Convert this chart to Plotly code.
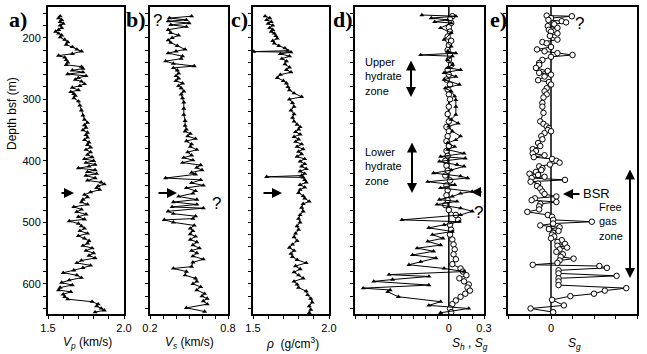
import plotly.graph_objects as go

W, H = 647, 354

# ---------------- data ----------------
a_depth = [165,168,171,174,177,180,184,187,190,193,196,199,203,207,211,215,219,222,226,229,232,236,240,244,247,250,253,256,259,262,265,268,271,275,278,281,285,288,291,294,298,303,310,318,326,333,338,342,346,350,354,358,362,366,370,374,378,382,386,390,394,397,400,403,406,409,412,415,418,421,424,428,432,435,438,441,444,447,451,455,459,463,467,471,475,479,483,487,491,495,498,502,506,510,514,518,522,526,530,534,538,542,546,550,554,558,562,566,570,574,578,582,586,590,594,598,602,606,610,613,617,621,625,629,633,636,640,643,646]
a_vp = [1.58,1.57,1.59,1.58,1.60,1.58,1.59,1.57,1.55,1.57,1.59,1.58,1.61,1.63,1.62,1.66,1.69,1.72,1.66,1.57,1.61,1.62,1.63,1.62,1.72,1.73,1.66,1.73,1.63,1.75,1.70,1.68,1.72,1.74,1.71,1.66,1.70,1.65,1.67,1.68,1.67,1.70,1.71,1.72,1.73,1.74,1.76,1.74,1.75,1.73,1.76,1.75,1.76,1.74,1.77,1.76,1.78,1.75,1.78,1.76,1.79,1.74,1.80,1.75,1.81,1.77,1.70,1.81,1.76,1.82,1.75,1.81,1.76,1.85,1.87,1.83,1.82,1.84,1.78,1.74,1.76,1.73,1.72,1.76,1.67,1.72,1.69,1.75,1.70,1.74,1.64,1.70,1.72,1.74,1.71,1.76,1.70,1.74,1.77,1.76,1.73,1.79,1.75,1.80,1.77,1.81,1.72,1.69,1.78,1.73,1.67,1.60,1.69,1.72,1.64,1.59,1.66,1.58,1.57,1.65,1.60,1.61,1.63,1.79,1.83,1.82,1.85,1.87,1.81]

b_depth = [165,168,171,173,176,179,182,187,192,196,200,204,208,213,219,222,225,230,234,238,242,246,249,253,258,262,266,270,274,278,282,287,292,298,305,315,325,335,343,349,352,356,360,364,368,373,377,382,386,391,395,399,403,407,411,415,419,422,428,431,436,440,444,449,453,458,463,467,471,475,477,482,486,490,494,496,500,505,510,514,519,523,528,532,537,542,546,550,555,560,565,572,575,580,586,591,596,600,605,610,616,620,624,628,633,639,645]
b_vs = [0.52,0.35,0.48,0.34,0.50,0.36,0.48,0.34,0.36,0.42,0.37,0.34,0.36,0.41,0.47,0.40,0.34,0.45,0.44,0.32,0.38,0.54,0.38,0.41,0.42,0.40,0.42,0.40,0.45,0.42,0.44,0.46,0.44,0.45,0.46,0.46,0.46,0.47,0.47,0.48,0.47,0.51,0.49,0.55,0.48,0.52,0.51,0.56,0.49,0.52,0.46,0.53,0.45,0.59,0.56,0.60,0.52,0.55,0.32,0.59,0.52,0.61,0.48,0.55,0.53,0.42,0.56,0.38,0.56,0.37,0.61,0.34,0.38,0.55,0.53,0.31,0.38,0.54,0.51,0.53,0.51,0.55,0.51,0.56,0.53,0.58,0.52,0.56,0.53,0.61,0.53,0.52,0.38,0.48,0.47,0.55,0.56,0.53,0.59,0.56,0.62,0.60,0.64,0.61,0.64,0.48,0.62]

c_depth = [165,168,171,174,177,180,184,187,190,193,197,201,205,209,213,217,221,222.5,223.5,226,230,234,238,243,248,252,256,260,265,270,274,280,285,290,296,300,306,312,318,324,330,336,341,345,349,353,357,361,365,369,373,377,381,385,389,393,397,401,405,409,413,417,421,424,426,427,431,435,439,443,447,452,457,461,466,470,476,482,488,494,500,506,512,518,524,530,536,541,546,551,556,561,566,571,576,581,586,591,596,601,606,612,618,624,630,636,642,647]
c_rho = [1.58,1.61,1.59,1.62,1.60,1.63,1.61,1.63,1.62,1.64,1.65,1.66,1.63,1.64,1.67,1.71,1.73,1.505,1.75,1.68,1.74,1.69,1.72,1.71,1.74,1.72,1.75,1.68,1.66,1.70,1.72,1.73,1.74,1.77,1.82,1.74,1.76,1.77,1.75,1.77,1.76,1.77,1.79,1.81,1.80,1.78,1.81,1.77,1.80,1.78,1.82,1.79,1.83,1.80,1.82,1.79,1.84,1.81,1.84,1.82,1.85,1.81,1.84,1.82,1.59,1.83,1.84,1.85,1.81,1.84,1.81,1.80,1.83,1.84,1.87,1.83,1.82,1.83,1.81,1.80,1.81,1.79,1.80,1.78,1.77,1.79,1.76,1.74,1.77,1.75,1.76,1.79,1.85,1.78,1.81,1.77,1.80,1.83,1.77,1.79,1.80,1.85,1.86,1.88,1.89,1.87,1.88,1.87]

d_depth = [163,165,168,171,174,176,184,192,203,214,222,225,228,230,236,244,249,252,257,263,268,276,282,287,295,301,312,325,333,339,344,352,360,366,371,377,382,388,393,396,401,406,409,415,420,425,428,434,439,444,450,453,458,463,466,471,477,482,488,496,499,504,509,515,520,526,531,537,542,547,553,558,564,569,575,580,585,588,593,596,602,607,610,613,621,629,635,640,647]
d_sh = [-0.23,0.06,-0.15,-0.01,-0.12,0.02,-0.07,0.02,-0.04,0.02,-0.01,0.06,-0.24,0.03,-0.01,0.03,-0.01,0.10,-0.04,0.06,-0.04,0.09,-0.03,0.02,0.05,0.06,0.06,0.06,0.02,0.08,0.00,0.03,0.10,0.06,-0.01,0.05,-0.01,0.13,-0.07,0.14,-0.08,0.07,0.13,0.02,-0.13,0.10,0.16,-0.18,0.05,-0.07,0.20,0.10,0.03,-0.08,0.07,-0.10,0.10,0.20,0.10,-0.40,0.09,-0.04,-0.17,0.03,-0.14,-0.05,-0.18,-0.07,-0.27,-0.13,-0.31,-0.11,-0.24,-0.34,-0.04,0.13,-0.51,-0.17,-0.48,-0.64,-0.17,-0.73,-0.50,-0.52,-0.43,-0.07,-0.17,0.17,-0.07]

d_sg_depth = [165,170,176,183,190,198,205,212,220,228,236,244,252,260,268,276,284,292,300,312,324,336,345,352,360,368,376,384,392,400,408,416,424,432,440,448,456,464,472,480,488,496,504,512,520,528,536,544,552,560,568,575,580,586,591,596,601,606,611,616,621,627,633,640,646]
d_sg = [0.03,0.01,0.02,0.00,0.01,-0.01,0.02,0.00,-0.01,0.01,0.00,0.02,-0.01,0.00,-0.02,0.01,-0.01,0.00,0.01,0.00,-0.01,0.00,-0.02,0.00,-0.01,-0.02,0.00,-0.02,-0.01,-0.03,-0.02,-0.01,-0.03,0.01,-0.02,-0.01,-0.02,-0.01,-0.03,0.00,0.06,0.08,0.01,0.02,0.01,0.03,0.04,0.05,0.04,0.06,0.03,0.10,0.12,0.15,0.09,0.13,0.17,0.16,0.18,0.14,0.10,0.06,0.03,0.01,0.02]

e_depth = [164,165,168,171,173,175,178,181,184,187,190,193,197,203,207,209,215,219,222,225,228,231,236,241,244,249,254,257,260,263,269,272,276,282,287,292,297,306,312,322,336,340,344,347,350,352,355,360,365,371,376,381,384,388,391,394,397,400,403,406,409,412,415,418,421,423,426,428,431,434,437,441,445,450,454,458,461,464,467,470,474,479,483,488,491,496,499,502,505,508,511,514,517,520,523,526,529,532,535,538,541,544,548,552,556,559,562,566,569,571,574,578,583,587,591,596,602,607,611,616,620,626,635,640,646]
e_sg = [-0.0020,0.0097,0.0000,-0.0012,0.0050,0.0070,0.0015,-0.0015,0.0030,-0.0010,0.0000,0.0030,-0.0005,0.0030,-0.0040,-0.0020,0.0000,-0.0065,-0.0030,0.0030,0.0100,0.0000,-0.0040,-0.0055,-0.0055,-0.0070,-0.0015,-0.0055,0.0000,-0.0030,-0.0060,-0.0010,0.0000,-0.0020,-0.0030,-0.0020,-0.0035,-0.0040,-0.0040,-0.0035,-0.0050,-0.0035,-0.0020,-0.0010,-0.0015,0.0000,-0.0030,-0.0045,-0.0040,-0.0060,-0.0050,-0.0085,-0.0070,-0.0085,-0.0030,-0.0080,0.0005,0.0025,0.0040,-0.0005,-0.0055,-0.0040,-0.0045,-0.0070,-0.0100,-0.0060,-0.0030,-0.0090,0.0065,-0.0095,-0.0060,-0.0065,-0.0050,-0.0040,-0.0030,0.0025,-0.0075,-0.0090,0.0025,-0.0050,-0.0055,-0.0055,-0.0110,-0.0015,0.0005,0.0010,0.0190,0.0010,-0.0050,0.0040,-0.0010,0.0035,0.0010,0.0005,0.0015,0.0000,0.0050,0.0030,0.0065,0.0030,0.0075,0.0040,0.0025,0.0055,0.0045,0.0105,0.0040,0.0030,-0.0085,0.0225,0.0260,0.0035,0.0035,0.0305,0.0035,0.0035,0.0035,0.0350,0.0250,0.0200,0.0090,0.0005,0.0060,-0.0095,0.0010]

x_ranges = [[1.5, 2.0], [0.2, 0.8], [1.5, 2.0], [-0.8, 0.3], [-0.02, 0.04]]
x_tickvals = [
    [1.5, 1.6, 1.7, 1.8, 1.9, 2.0],
    [0.2, 0.3, 0.4, 0.5, 0.6, 0.7, 0.8],
    [1.5, 1.6, 1.7, 1.8, 1.9, 2.0],
    [-0.8, -0.7, -0.6, -0.5, -0.4, -0.3, -0.2, -0.1, 0, 0.1, 0.2, 0.3],
    [-0.02, -0.01, 0, 0.01, 0.02, 0.03, 0.04],
]
x_ticktext = [
    ["1.5", "", "", "", "", "2.0"],
    ["0.2", "", "", "", "", "", "0.8"],
    ["1.5", "", "", "", "", "2.0"],
    ["", "", "", "", "", "", "", "", "0", "", "", "0.3"],
    ["", "", "0", "", "", "", "0.04"],
]
depth_tickvals = list(range(160, 660, 20))
depth_ticktext = [str(v) if v % 100 == 0 else "" for v in depth_tickvals]
depth_range = [649, 150]

# ---------------- layout helpers ----------------
def px(x):
    return x / W

def py(y):
    return 1 - y / H

panels = [(48, 124), (150, 228), (253, 329), (355, 484), (508, 637)]
ytop, ybot = 7, 314
FONT = "Liberation Sans, Arial, Helvetica, sans-serif"
SERIF = "Liberation Serif, Times New Roman, serif"

fig = go.Figure()

tri = dict(symbol="triangle-up", size=4.5, color="black", line=dict(width=0))
circw = dict(symbol="circle", size=5.5, color="white", line=dict(width=1, color="black"))

fig.add_trace(go.Scatter(x=a_vp, y=a_depth, mode="lines+markers", line=dict(color="black", width=1), marker=tri, xaxis="x", yaxis="y"))
fig.add_trace(go.Scatter(x=b_vs, y=b_depth, mode="lines+markers", line=dict(color="black", width=1), marker=tri, xaxis="x2", yaxis="y2"))
fig.add_trace(go.Scatter(x=c_rho, y=c_depth, mode="lines+markers", line=dict(color="black", width=1), marker=tri, xaxis="x3", yaxis="y3"))
fig.add_trace(go.Scatter(x=d_sg, y=d_sg_depth, mode="lines+markers", line=dict(color="black", width=1), marker=circw, xaxis="x4", yaxis="y4"))
fig.add_trace(go.Scatter(x=d_sh, y=d_depth, mode="lines+markers", line=dict(color="black", width=1), marker=tri, xaxis="x4", yaxis="y4"))
fig.add_trace(go.Scatter(x=e_sg, y=e_depth, mode="lines+markers", line=dict(color="black", width=1), marker=circw, xaxis="x5", yaxis="y5"))

layout = dict(
    width=W, height=H,
    margin=dict(l=0, r=0, t=0, b=0),
    paper_bgcolor="white", plot_bgcolor="white",
    showlegend=False,
    font=dict(family=FONT, size=11, color="black"),
)

for i, (l, r) in enumerate(panels):
    s = "" if i == 0 else str(i + 1)
    layout["xaxis" + s] = dict(
        domain=[px(l), px(r)], range=x_ranges[i], anchor="y" + s,
        showline=True, mirror=True, linecolor="black", linewidth=2,
        ticks="outside", ticklen=3, tickwidth=1, tickcolor="black",
        tickmode="array", tickvals=x_tickvals[i], ticktext=x_ticktext[i],
        tickfont=dict(family=FONT, size=11, color="black"),
        showgrid=False, zeroline=False, automargin=False,
    )
    layout["yaxis" + s] = dict(
        domain=[py(ybot), py(ytop)], range=depth_range, anchor="x" + s,
        showline=True, mirror=True, linecolor="black", linewidth=2,
        ticks="outside", ticklen=3, tickwidth=1, tickcolor="black",
        tickmode="array", tickvals=depth_tickvals, ticktext=depth_ticktext,
        showticklabels=(i == 0),
        tickfont=dict(family=FONT, size=11, color="black"),
        showgrid=False, zeroline=False, automargin=False,
    )

fig.update_layout(**layout)

# zero lines in d and e
for s in ["4", "5"]:
    fig.add_shape(type="line", x0=0, x1=0, xref="x" + s, y0=0, y1=1, yref="y" + s + " domain",
                  line=dict(color="black", width=1.5), layer="below")

ann = []
# panel letters
for txt, x in [("a)", 18), ("b)", 136), ("c)", 239), ("d)", 343), ("e)", 498)]:
    ann.append(dict(text="<b>%s</b>" % txt, x=px(x), y=py(19), xref="paper", yref="paper",
                    showarrow=False, font=dict(family=SERIF, size=22, color="black"),
                    xanchor="center", yanchor="middle"))
# axis titles
titles = [
    ("<i>V</i><sub><i>p</i></sub> (km/s)", 87, 343),
    ("<i>V</i><sub><i>s</i></sub> (km/s)", 189, 343),
    ("<i>ρ</i>  (g/cm<sup>3</sup>)", 292, 343),
    ("<i>S</i><sub><i>h</i></sub> , <i>S</i><sub><i>g</i></sub>", 470, 344),
    ("<i>S</i><sub><i>g</i></sub>", 574, 344),
]
for t, x, y in titles:
    ann.append(dict(text=t, x=px(x), y=py(y), xref="paper", yref="paper", showarrow=False,
                    font=dict(family=FONT, size=12, color="black"), xanchor="center", yanchor="middle"))
ann.append(dict(text="Depth bsf (m)", x=px(12), y=py(114), xref="paper", yref="paper", showarrow=False,
                textangle=-90, font=dict(family=FONT, size=12, color="black"),
                xanchor="center", yanchor="middle"))

# single arrows (head position, tail offset in px)
for hx, hy, dx in [(74, 193, -14), (177, 193, -20), (282, 193, -20), (471, 192, 12), (563, 194, 18)]:
    ann.append(dict(text="", x=px(hx), y=py(hy), xref="paper", yref="paper", showarrow=True,
                    ax=dx, ay=0, arrowhead=2, arrowsize=1, arrowwidth=2, arrowcolor="black",
                    standoff=0, startstandoff=0))
# double arrows
for hx, y0, y1 in [(411, 59, 97), (412, 141, 193), (630, 168, 278)]:
    ann.append(dict(text="", x=px(hx), y=py(y1), xref="paper", yref="paper", showarrow=True,
                    ax=0, ay=-(y1 - y0), arrowhead=2, arrowsize=1, arrowwidth=2, arrowcolor="black",
                    arrowside="end+start", standoff=0, startstandoff=0))
# zone texts
for t, x, y in [("Upper<br>hydrate<br>zone", 363, 77), ("Lower<br>hydrate<br>zone", 363, 167),
                ("Free<br>gas<br>zone", 597, 221)]:
    ann.append(dict(text=t, x=px(x), y=py(y), xref="paper", yref="paper", showarrow=False, align="left",
                    font=dict(family=FONT, size=11, color="black"), xanchor="left", yanchor="middle"))
ann.append(dict(text="BSR", x=px(596), y=py(193), xref="paper", yref="paper", showarrow=False,
                font=dict(family=FONT, size=13, color="black"), xanchor="center", yanchor="middle"))
for x, y in [(157, 21), (216, 203), (478, 212), (579, 23)]:
    ann.append(dict(text="?", x=px(x), y=py(y), xref="paper", yref="paper", showarrow=False,
                    font=dict(family=FONT, size=17, color="black"), xanchor="center", yanchor="middle"))

fig.update_layout(annotations=ann)
fig.write_html("out.html", config={"displayModeBar": False},
               post_script="document.body.style.margin='0px';document.body.style.overflow='hidden';")
